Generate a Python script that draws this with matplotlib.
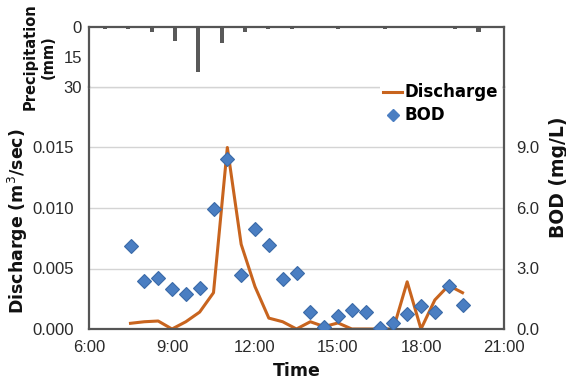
import matplotlib.pyplot as plt
from matplotlib.lines import Line2D

# sampling times in decimal hours
times = [7.5, 8.0, 8.5, 9.0, 9.5, 10.0, 10.5, 11.0, 11.5, 12.0, 12.5, 13.0, 13.5,
         14.0, 14.5, 15.0, 15.5, 16.0, 16.5, 17.0, 17.5, 18.0, 18.5, 19.0, 19.5]
discharge = [0.00047, 0.0006, 0.00066, 0.0, 0.0006, 0.0014, 0.003, 0.015, 0.007,
             0.0035, 0.0009, 0.0006, 0.0, 0.0006, 0.0002, 0.0005, 0.0, 0.0, 0.0,
             0.0, 0.0039, 0.0, 0.0024, 0.0036, 0.003]
bod = [4.1, 2.4, 2.55, 2.0, 1.73, 2.02, 5.95, 8.44, 2.69, 4.96, 4.18, 2.49, 2.8,
       0.86, 0.11, 0.66, 0.95, 0.83, 0.05, 0.31, 0.73, 1.16, 0.86, 2.15, 1.19]

# rainfall bars
rain_times = [6.58, 7.42, 8.27, 9.11, 9.95, 10.8, 11.64, 12.48, 13.33, 14.17,
              15.01, 15.86, 16.7, 17.54, 18.39, 19.23, 20.08]
rain = [1, 1, 2.5, 7, 22.5, 8, 2.5, 1, 1, 0, 1, 0, 1, 0, 0, 1, 2.5]

hour_ticks = [6, 9, 12, 15, 18, 21]
q_ticks = [0.0, 0.005, 0.010, 0.015]
bod_ticks = [0.0, 3.0, 6.0, 9.0]
rain_ticks = [0, 15, 30]

frame = "#555555"
tick_font = dict(family=["Liberation Sans", "DejaVu Sans"], size=12, color="#2a2a2a")
label_font = dict(family="DejaVu Sans", weight="bold", size=12.5, color="#111111")

fig = plt.figure(figsize=(5.66, 3.83), dpi=100)
W, H = 566, 383
ax = fig.add_axes([89 / W, (H - 329) / H, 415 / W, 242 / H])
axp = fig.add_axes([89 / W, (H - 87) / H, 415 / W, 60 / H], sharex=ax)
ax2 = ax.twinx()

# discharge
ax.plot(times, discharge, color="#C8641E", lw=2.2, solid_joinstyle="round")
ax.set_ylim(0, 0.020)
ax.set_yticks(q_ticks + [0.020])
ax.set_yticklabels([f"{v:.3f}" for v in q_ticks] + [""], **tick_font)
ax.grid(axis="y", color="#d4d4d4", lw=1)
ax.set_axisbelow(True)
ax.set_xlim(6, 21)
ax.set_xticks(hour_ticks)
ax.set_xticklabels([f"{h}:00" for h in hour_ticks], **tick_font)
ax.tick_params(axis="y", length=0, pad=11)
ax.tick_params(axis="x", length=0, pad=8)
ax.set_xlabel("Time", labelpad=5, **label_font)
for s in ["left", "bottom", "right"]:
    ax.spines[s].set_color(frame)
    ax.spines[s].set_linewidth(1.6)
ax.spines["top"].set_color("#d4d4d4")
ax.spines["top"].set_linewidth(1)
fig.text(17.5 / W, (H - 221) / H, "Discharge (m$^3$/sec)", rotation=90,
         ha="center", va="center", **label_font)

# BOD on the right axis
ax2.plot(times, bod, ls="none", marker="D", ms=7.5, color="#4A7EC2",
         markeredgecolor="#3A6AA8", markeredgewidth=0.8, zorder=3)
ax2.set_ylim(0, 12)
ax2.set_yticks(bod_ticks)
ax2.set_yticklabels([f"{v:.1f}" for v in bod_ticks], **tick_font)
ax2.tick_params(axis="y", length=0, pad=9)
for s in ax2.spines.values():
    s.set_visible(False)
fig.text(558 / W, (H - 177) / H, "BOD (mg/L)", rotation=90, ha="center",
         va="center", family="DejaVu Sans", weight="bold", size=13.5,
         color="#111111")

# precipitation hanging from the top
axp.bar(rain_times, rain, width=0.15, color="#595959")
axp.set_ylim(30, 0)
axp.set_yticks(rain_ticks)
axp.set_yticklabels([str(v) for v in rain_ticks], **tick_font)
axp.tick_params(axis="y", length=0, pad=5)
axp.tick_params(axis="x", length=0, labelbottom=False)
axp.spines["bottom"].set_visible(False)
for s in ["left", "top", "right"]:
    axp.spines[s].set_color(frame)
    axp.spines[s].set_linewidth(1.6)
axp.patch.set_alpha(0)
fig.text(39 / W, (H - 57) / H, "Precipitation\n(mm)", rotation=90, ha="center",
         va="center", family="DejaVu Sans", weight="bold", size=10.5,
         linespacing=1.25, color="#111111")

handles = [Line2D([], [], color="#C8641E", lw=2.2),
           Line2D([], [], ls="none", marker="D", ms=6, color="#4A7EC2")]
leg = ax2.legend(handles, ["Discharge", "BOD"], loc="upper left",
                 bbox_to_anchor=(380 / W, (H - 80) / H), bbox_transform=fig.transFigure,
                 frameon=True, fancybox=False, handlelength=1.1, handletextpad=0.2,
                 labelspacing=0.3, borderpad=0.2, borderaxespad=0,
                 prop=dict(family="DejaVu Sans", weight="bold", size=12))
leg.get_frame().set_edgecolor("none")
leg.get_frame().set_facecolor("white")
leg.get_frame().set_alpha(1)

fig.savefig("out.png", dpi=100)
